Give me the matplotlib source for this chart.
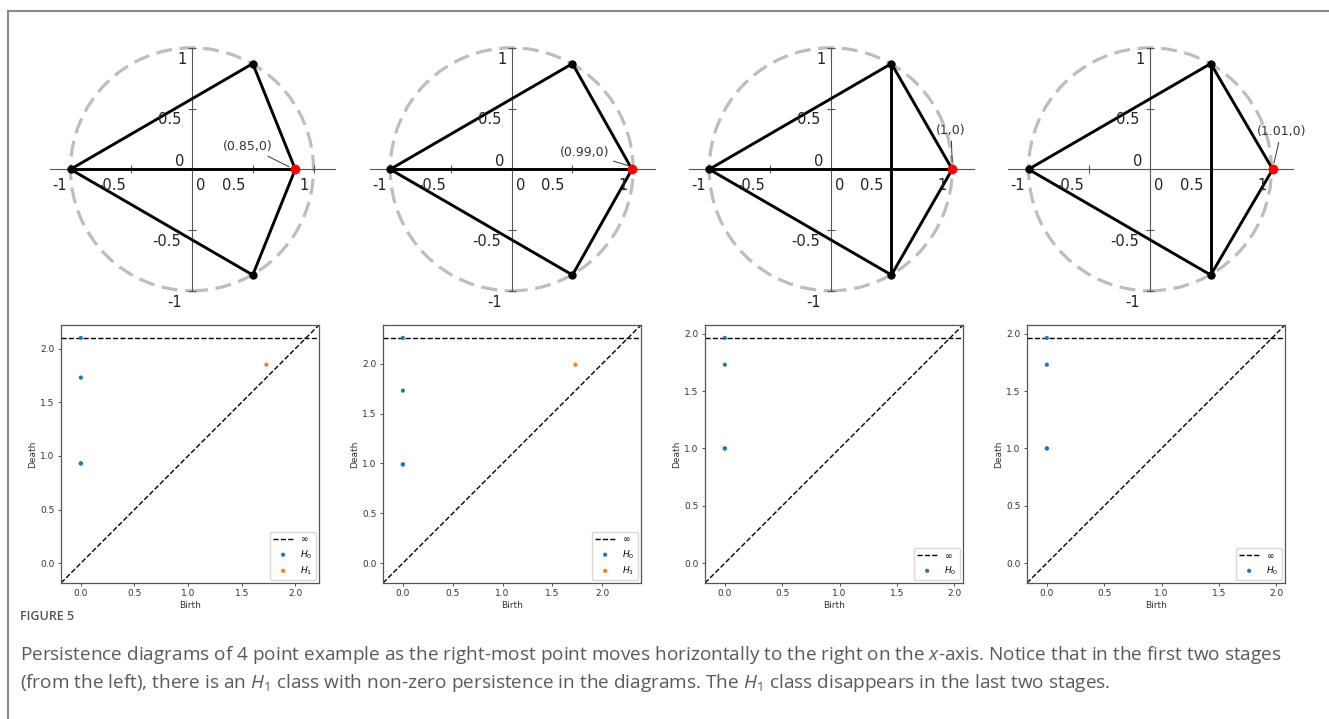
import numpy as np
import matplotlib
matplotlib.use("Agg")
import matplotlib.pyplot as plt
from matplotlib.lines import Line2D
from matplotlib.patches import Circle

# --- top row: the four point configurations ---
fixed_x = [-1.0, 0.5, 0.5]
fixed_y = [0.0, 0.87, -0.87]
moving_x = [0.85, 0.99, 1.0, 1.01]
moving_labels = ['(0.85,0)', '(0.99,0)', '(1,0)', '(1.01,0)']
# point index: 0 left, 1 top, 2 bottom, 3 moving point
edges = [
    [(0, 1), (1, 3), (3, 2), (2, 0), (0, 3)],
    [(0, 1), (1, 3), (3, 2), (2, 0), (0, 3)],
    [(0, 1), (1, 3), (3, 2), (2, 0), (0, 3), (1, 2)],
    [(0, 1), (1, 3), (3, 2), (2, 0), (1, 2)],
]
tick_vals = [-1, -0.5, 0.5, 1]
x_tick_labels = ['-1', '-0.5', '0', '0.5', '1']
y_tick_labels = ['1', '0.5', '0', '-0.5', '-1']

# --- bottom row: persistence diagrams ---
h0_deaths = [
    [0.93, 0.93, 1.73, np.inf],
    [0.99, 0.99, 1.73, np.inf],
    [1.0, 1.0, 1.73, np.inf],
    [1.0, 1.0, 1.73, np.inf],
]
h1_births = [[1.73], [1.73], [], []]
h1_deaths = [[1.85], [1.99], [], []]

caption_title = 'FIGURE 5'
caption_lines = [
    'Persistence diagrams of 4 point example as the right-most point moves horizontally '
    'to the right on the $x$-axis. Notice that in the first two stages',
    '(from the left), there is an $H_1$ class with non-zero persistence in the diagrams. '
    'The $H_1$ class disappears in the last two stages.',
]

W, H = 1329, 719
plt.rcParams['mathtext.rm'] = 'Open Sans'
plt.rcParams['mathtext.it'] = 'Open Sans:italic'
fig = plt.figure(figsize=(W / 100, H / 100), dpi=100)

# positions (pixels) of layout
top_centers = [192, 511.7, 830.7, 1150]
top_cy = 169.3
unit = 121.5
xlim = (-1.4, 1.4)
ylim = (-1.25, 1.2)
x_lab_pos = [-1.09, -0.66, 0.07, 0.34, 0.92]
y_lab_pos = [(-0.08, 0.9), (-0.18, 0.41), (-0.1, 0.063), (-0.21, -0.595), (-0.14, -1.1)]
ann_text_pos = [(0.46, 0.19), (0.60, 0.14), (0.99, 0.32), (1.08, 0.31)]
ann_tip_off = [(-0.05, 0.02), (-0.03, 0.03), (0.0, 0.06), (0.01, 0.05)]

for i, cx in enumerate(top_centers):
    left = cx + xlim[0] * unit
    top = top_cy - ylim[1] * unit
    w = (xlim[1] - xlim[0]) * unit
    h = (ylim[1] - ylim[0]) * unit
    ax = fig.add_axes([left / W, 1 - (top + h) / H, w / W, h / H])
    ax.set_xlim(*xlim)
    ax.set_ylim(*ylim)
    for s in ['top', 'right']:
        ax.spines[s].set_visible(False)
    ax.spines['left'].set_position('zero')
    ax.spines['bottom'].set_position('zero')
    ax.spines['left'].set_bounds(-1, 1)
    ax.spines['bottom'].set_bounds(-1.17, 1.18)
    for s in ['left', 'bottom']:
        ax.spines[s].set_color('#555555')
        ax.spines[s].set_linewidth(0.8)
    ax.set_xticks(tick_vals)
    ax.set_yticks(tick_vals)
    ax.tick_params(direction='inout', length=6, width=0.8, color='#555555',
                   labelbottom=False, labelleft=False)
    ax.patch.set_visible(False)

    ax.add_patch(Circle((0, 0), 1, fill=False, ec='#bdbdbd', lw=2.3,
                        ls=(0, (5, 2.4)), zorder=1))

    px = fixed_x + [moving_x[i]]
    py = fixed_y + [0.0]
    for a, b in edges[i]:
        ax.plot([px[a], px[b]], [py[a], py[b]], color='black', lw=2.1,
                solid_capstyle='round', zorder=3)
    ax.plot(fixed_x, fixed_y, 'o', color='black', ms=5, zorder=4)
    ax.plot([moving_x[i]], [0.0], 'o', color='red', ms=6, zorder=5)

    for lab, xp in zip(x_tick_labels, x_lab_pos):
        ax.text(xp, -0.13, lab, ha='center', va='center', fontsize=10.5,
                color='#222222')
    for lab, (xp, yp) in zip(y_tick_labels, y_lab_pos):
        ax.text(xp, yp, lab, ha='center', va='center', fontsize=10.5,
                color='#222222')

    dx, dy = ann_tip_off[i]
    ax.annotate(moving_labels[i], xy=(moving_x[i] + dx, dy), xytext=ann_text_pos[i],
                ha='center', va='center', fontsize=9, color='#333333',
                arrowprops=dict(arrowstyle='-', lw=0.7, color='#333333',
                                shrinkA=1, shrinkB=0))

# persistence diagrams
diag_lefts = [61, 383, 705, 1027]
diag_top = 325
diag_size = 258
for i, left in enumerate(diag_lefts):
    ax = fig.add_axes([left / W, 1 - (diag_top + diag_size) / H,
                       diag_size / W, diag_size / H])
    finite = [d for d in h0_deaths[i] if np.isfinite(d)] + h1_births[i] + h1_deaths[i] + [0.0]
    lo, hi = min(finite), max(finite)
    buf = (hi - lo) / 5
    down, up = lo - buf / 2, hi + buf
    b_inf = down + (up - down) * 0.95

    ax.plot([down, up], [down, up], '--', c='k', lw=1.0)
    ax.plot([down, up], [b_inf, b_inf], '--', c='k', lw=1.0, label=r'$\infty$')
    h0_y = [d if np.isfinite(d) else b_inf for d in h0_deaths[i]]
    ax.scatter([0.0] * len(h0_y), h0_y, s=9, c='#1f77b4', edgecolor='none',
               label='$H_0$', zorder=3)
    if h1_births[i]:
        ax.scatter(h1_births[i], h1_deaths[i], s=9, c='#ff7f0e', edgecolor='none',
                   label='$H_1$', zorder=3)
    ax.set_xlim(down, up)
    ax.set_ylim(down, up)
    ax.set_xticks([0.0, 0.5, 1.0, 1.5, 2.0])
    ax.set_yticks([0.0, 0.5, 1.0, 1.5, 2.0])
    ax.tick_params(labelsize=6.5, length=2.5, width=0.6, pad=2, colors='#333333')
    for s in ax.spines.values():
        s.set_color('#555555')
        s.set_linewidth(0.9)
    ax.set_xlabel('Birth', fontsize=6.5, labelpad=2, color='#333333')
    ax.set_ylabel('Death', fontsize=6.5, labelpad=2, color='#333333')
    ax.legend(loc='lower right', fontsize=6.5, borderaxespad=0.3,
              handlelength=2.2, borderpad=0.4, labelspacing=0.4)

# caption
fig.text(20 / W, 1 - 617 / H, caption_title, ha='left', va='center',
         fontsize=9, color='#555555', family='Open Sans', weight='semibold')
cap_texts = []
for k, line in enumerate(caption_lines):
    t = fig.text(20 / W, 1 - (655 + 28 * k) / H, line, ha='left', va='center',
                 fontsize=12.3, color='#595959', family='Open Sans',
                 math_fontfamily='custom')
    cap_texts.append(t)

# stretch caption font so the first line spans the same width as the original
fig.canvas.draw()
r = fig.canvas.get_renderer()
width = cap_texts[0].get_window_extent(r).width
new_size = 12.3 * 1270 / width
for t in cap_texts:
    t.set_fontsize(new_size)

# figure frame (top and left edges)
fig.add_artist(Line2D([7.5 / W, 1], [1 - 10.5 / H] * 2, transform=fig.transFigure,
                      color='#8a8a8a', lw=1.5))
fig.add_artist(Line2D([7.5 / W] * 2, [0, 1 - 10.5 / H], transform=fig.transFigure,
                      color='#8a8a8a', lw=1.5))

fig.savefig('out.png', dpi=100)
